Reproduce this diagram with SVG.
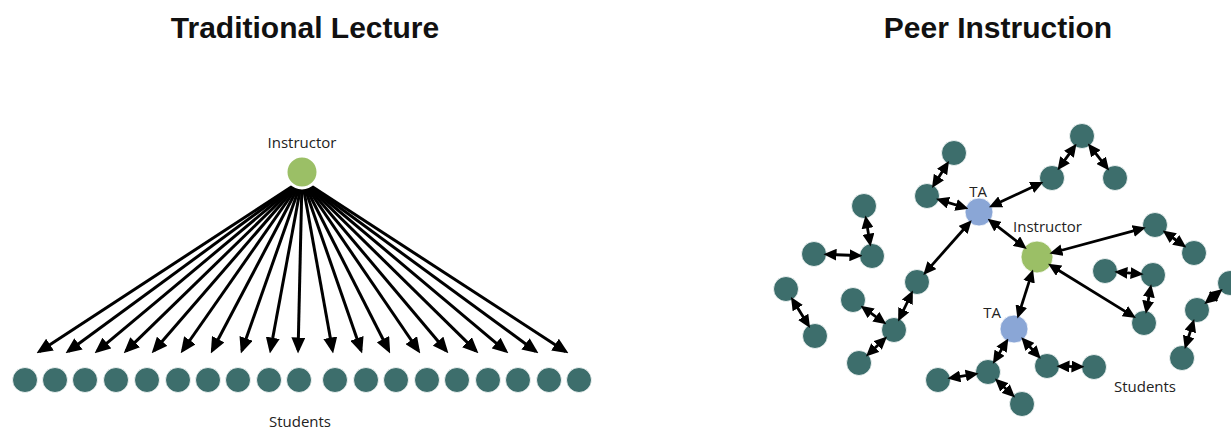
<svg xmlns="http://www.w3.org/2000/svg" width="1231" height="429" viewBox="0 0 1231 429">
<style>
.title{font-family:"Liberation Sans",Arial,sans-serif;font-weight:bold;font-size:30px;fill:#111;text-anchor:middle}
.lbl{font-family:"Open Sans","Liberation Sans",sans-serif;font-size:15px;fill:#222}
.mid{text-anchor:middle}
.st{fill:#3d6e6c;stroke:#ffffff;stroke-width:0.8}
.ins{fill:#9bbf66;stroke:#ffffff;stroke-width:3}
.ins2{fill:#9bbf66;stroke:#ffffff;stroke-width:0.8}
.ta{fill:#8aa6d6;stroke:#ffffff;stroke-width:0.8}
.c line{stroke:#000;fill:none}
.one line{stroke-width:3;marker-end:url(#ahL)}
.two line{stroke-width:2.8;marker-start:url(#ahR);marker-end:url(#ahR)}
</style>
<defs>
<marker id="ahL" markerUnits="userSpaceOnUse" markerWidth="16" markerHeight="14" refX="12.5" refY="7" orient="auto-start-reverse" viewBox="0 0 16 14">
<path d="M0,0 L16,7 L0,14 z" fill="#000"/>
</marker>
<marker id="ahR" markerUnits="userSpaceOnUse" markerWidth="13" markerHeight="12" refX="7" refY="6" orient="auto-start-reverse" viewBox="0 0 13 12">
<path d="M0,0 L13,6 L0,12 z" fill="#000"/>
</marker>
</defs>
<rect width="1231" height="429" fill="#ffffff"/>
<text class="title" x="305" y="38">Traditional Lecture</text>
<text class="title" x="998" y="38">Peer Instruction</text>

<g id="peer-instructor"><circle class="ins2" cx="1037" cy="257" r="16"/><text class="lbl" x="1013" y="232">Instructor</text></g>
<g id="ta1"><circle class="ta" cx="979" cy="212" r="14"/><text class="lbl mid" x="978" y="197">TA</text></g>
<g id="ta2"><circle class="ta" cx="1014" cy="329" r="14"/><text class="lbl mid" x="992" y="318">TA</text></g>
<g id="peer-students">
<g id="pA"><circle class="st" cx="954" cy="153" r="12.5"/></g>
<g id="pB"><circle class="st" cx="927" cy="196" r="12.5"/></g>
<g id="pC"><circle class="st" cx="1052" cy="178" r="12.5"/></g>
<g id="pD"><circle class="st" cx="1082" cy="136" r="12.5"/></g>
<g id="pE"><circle class="st" cx="1115" cy="178" r="12.5"/></g>
<g id="pF"><circle class="st" cx="864" cy="206" r="12.5"/></g>
<g id="pG"><circle class="st" cx="872" cy="256" r="12.5"/></g>
<g id="pH"><circle class="st" cx="814" cy="254" r="12.5"/></g>
<g id="pJ"><circle class="st" cx="786" cy="289" r="12.5"/></g>
<g id="pK"><circle class="st" cx="815" cy="336" r="12.5"/></g>
<g id="pL"><circle class="st" cx="853" cy="300" r="12.5"/></g>
<g id="pM"><circle class="st" cx="894" cy="330" r="12.5"/></g>
<g id="pN"><circle class="st" cx="917" cy="282" r="12.5"/></g>
<g id="pO"><circle class="st" cx="859" cy="363" r="12.5"/></g>
<g id="pP"><circle class="st" cx="1155" cy="225" r="12.5"/></g>
<g id="pQ"><circle class="st" cx="1194" cy="253" r="12.5"/></g>
<g id="pR"><circle class="st" cx="1105" cy="271" r="12.5"/></g>
<g id="pS"><circle class="st" cx="1153" cy="275" r="12.5"/></g>
<g id="pT"><circle class="st" cx="1144" cy="323" r="12.5"/></g>
<g id="pU"><circle class="st" cx="988" cy="372" r="12.5"/></g>
<g id="pV"><circle class="st" cx="938" cy="380" r="12.5"/></g>
<g id="pW"><circle class="st" cx="1022" cy="404" r="12.5"/></g>
<g id="pX"><circle class="st" cx="1047" cy="366" r="12.5"/></g>
<g id="pY"><circle class="st" cx="1094" cy="367" r="12.5"/></g>
<g id="pZ"><circle class="st" cx="1230" cy="283" r="12.5"/></g>
<g id="pAA"><circle class="st" cx="1197" cy="310" r="12.5"/></g>
<g id="pAB"><circle class="st" cx="1182" cy="358" r="12.5"/></g>
<text class="lbl mid" x="1145" y="392">Students</text>
</g>

<g id="connectors" class="c">
<g class="one">
<line x1="302" y1="180" x2="39.5" y2="351.4"/>
<line x1="302" y1="180" x2="68.4" y2="351.2"/>
<line x1="302" y1="180" x2="97.3" y2="351.1"/>
<line x1="302" y1="180" x2="126.2" y2="350.9"/>
<line x1="302" y1="180" x2="154" y2="350.7"/>
<line x1="302" y1="180" x2="182.7" y2="350.5"/>
<line x1="302" y1="180" x2="212.4" y2="350.3"/>
<line x1="302" y1="180" x2="242" y2="350.2"/>
<line x1="302" y1="180" x2="270.5" y2="350.1"/>
<line x1="302" y1="180" x2="298.1" y2="350"/>
<line x1="302" y1="180" x2="332.5" y2="350"/>
<line x1="302" y1="180" x2="361" y2="350.2"/>
<line x1="302" y1="180" x2="388.6" y2="350.3"/>
<line x1="302" y1="180" x2="418.3" y2="350.5"/>
<line x1="302" y1="180" x2="446.1" y2="350.7"/>
<line x1="302" y1="180" x2="475.9" y2="350.9"/>
<line x1="302" y1="180" x2="505.7" y2="351.1"/>
<line x1="302" y1="180" x2="535.6" y2="351.2"/>
<line x1="302" y1="180" x2="565.5" y2="351.4"/>
</g>
<g class="two">
<line x1="945.8" y1="166.1" x2="935.2" y2="182.9"/>
<line x1="941.8" y1="200.6" x2="962.7" y2="207"/>
<line x1="994.4" y1="204.8" x2="1037.9" y2="184.5"/>
<line x1="1061" y1="165.4" x2="1073" y2="148.6"/>
<line x1="1091.6" y1="148.2" x2="1105.4" y2="165.8"/>
<line x1="992.4" y1="222.4" x2="1022" y2="245.4"/>
<line x1="967.7" y1="224.7" x2="927.3" y2="270.4"/>
<line x1="866.4" y1="221.3" x2="869.6" y2="240.7"/>
<line x1="829.5" y1="254.5" x2="856.5" y2="255.5"/>
<line x1="794.1" y1="302.2" x2="806.9" y2="322.8"/>
<line x1="865.5" y1="309.2" x2="881.5" y2="320.8"/>
<line x1="910.3" y1="296" x2="900.7" y2="316"/>
<line x1="882.7" y1="340.6" x2="870.3" y2="352.4"/>
<line x1="1055.3" y1="252" x2="1140" y2="229.1"/>
<line x1="1167.6" y1="234" x2="1181.4" y2="244"/>
<line x1="1120.4" y1="272.3" x2="1137.6" y2="273.7"/>
<line x1="1150.1" y1="290.2" x2="1146.9" y2="307.8"/>
<line x1="1053.2" y1="267" x2="1130.8" y2="314.9"/>
<line x1="1031.2" y1="275.1" x2="1019.2" y2="312.8"/>
<line x1="1005.2" y1="343.6" x2="996" y2="358.7"/>
<line x1="953.3" y1="377.6" x2="972.7" y2="374.4"/>
<line x1="999.3" y1="382.6" x2="1010.7" y2="393.4"/>
<line x1="1025.3" y1="341.7" x2="1036.7" y2="354.4"/>
<line x1="1062.5" y1="366.3" x2="1078.5" y2="366.7"/>
<line x1="1218" y1="292.8" x2="1209" y2="300.2"/>
<line x1="1192.4" y1="324.8" x2="1186.6" y2="343.2"/>
</g>
</g>

<g id="lecture-instructor"><circle class="ins" cx="302" cy="172" r="16"/><text class="lbl mid" x="302" y="148">Instructor</text></g>
<g id="lecture-students">
<g id="ls1"><circle class="st" cx="25" cy="380" r="12.5"/></g>
<g id="ls2"><circle class="st" cx="55" cy="380" r="12.5"/></g>
<g id="ls3"><circle class="st" cx="85" cy="380" r="12.5"/></g>
<g id="ls4"><circle class="st" cx="116" cy="380" r="12.5"/></g>
<g id="ls5"><circle class="st" cx="147" cy="380" r="12.5"/></g>
<g id="ls6"><circle class="st" cx="178" cy="380" r="12.5"/></g>
<g id="ls7"><circle class="st" cx="208" cy="380" r="12.5"/></g>
<g id="ls8"><circle class="st" cx="238" cy="380" r="12.5"/></g>
<g id="ls9"><circle class="st" cx="269" cy="380" r="12.5"/></g>
<g id="ls10"><circle class="st" cx="299" cy="380" r="12.5"/></g>
<g id="ls11"><circle class="st" cx="335" cy="380" r="12.5"/></g>
<g id="ls12"><circle class="st" cx="366" cy="380" r="12.5"/></g>
<g id="ls13"><circle class="st" cx="396" cy="380" r="12.5"/></g>
<g id="ls14"><circle class="st" cx="427" cy="380" r="12.5"/></g>
<g id="ls15"><circle class="st" cx="457" cy="380" r="12.5"/></g>
<g id="ls16"><circle class="st" cx="488" cy="380" r="12.5"/></g>
<g id="ls17"><circle class="st" cx="518" cy="380" r="12.5"/></g>
<g id="ls18"><circle class="st" cx="549" cy="380" r="12.5"/></g>
<g id="ls19"><circle class="st" cx="579" cy="380" r="12.5"/></g>
<text class="lbl mid" x="300" y="427">Students</text>
</g>
</svg>
